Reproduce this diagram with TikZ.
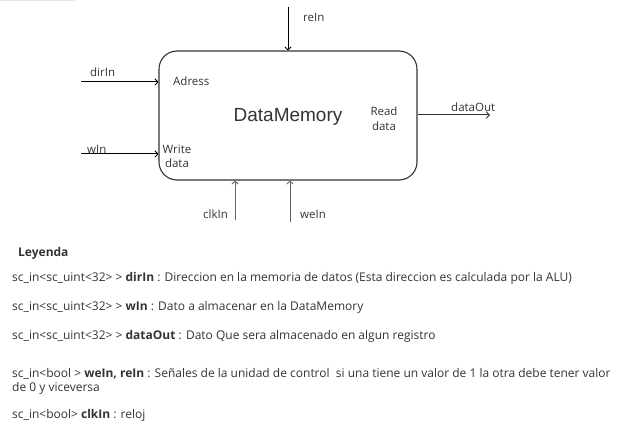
\documentclass[tikz,border=0pt]{standalone}
\usepackage{fontspec}
\setmainfont{Open Sans}
\newfontfamily\arialf{Liberation Sans}
\usetikzlibrary{arrows.meta}
\definecolor{txt}{HTML}{333333}
\definecolor{edge}{HTML}{333333}
\definecolor{lowline}{HTML}{666666}
\tikzset{
  lbl/.style={anchor=base west, inner sep=0pt, text=txt, font=\fontsize{11.5}{13}\selectfont},
  lblc/.style={anchor=base, inner sep=0pt, text=txt, font=\fontsize{11.5}{13}\selectfont},
  leg/.style={anchor=base west, inner sep=0pt, text=txt, font=\fontsize{12}{14}\selectfont},
  wire/.style={line width=1pt, -{Straight Barb[length=3pt,width=6.5pt,line width=0.9pt]}},
}
\begin{document}
\begin{tikzpicture}[x=1pt,y=-1pt]
\useasboundingbox (0,0) rectangle (622,425);
\fill[black!10] (0,0) rectangle (75,1.5);
% memory block
\node[draw=edge, line width=1.1pt, rounded corners=18pt, minimum width=258pt, minimum height=129pt, inner sep=0pt] (mem) at (288,115.5) {};
\node[inner sep=0pt, text=txt, font=\arialf\fontsize{19}{22}\selectfont, anchor=base] (title) at (288,122) {DataMemory};
% port labels inside
\node[lbl] (adr) at (173,86) {Adress};
\node[lblc] (wd1) at (177,154) {Write};
\node[lblc] (wd2) at (177,168) {data};
\node[lblc] (rd1) at (384,116) {Read};
\node[lblc] (rd2) at (384,131) {data};
% free ends
\coordinate (reS) at (288,7);
\coordinate (dirS) at (81,82);
\coordinate (wS) at (81,154);
\coordinate (outE) at (490,115);
\coordinate (clkS) at (235,220);
\coordinate (weS) at (290,222);
% connectors
\draw[wire, black] (reS) -- (reS |- mem.north);
\draw[wire, black] (dirS) -- (dirS -| mem.west);
\draw[wire, black] (wS) -- (wS -| mem.west);
\draw[wire, edge] (outE -| mem.east) -- (outE);
\draw[wire, lowline] (clkS) -- (clkS |- mem.south);
\draw[wire, lowline] (weS) -- (weS |- mem.south);
% connector labels
\node[lbl] (reL) at (303,22) {reIn};
\node[lbl] (dirL) at (90,77) {dirIn};
\node[lbl] (wL) at (87,154) {wIn};
\node[lbl] (outL) at (451,112) {dataOut};
\node[lbl] (clkL) at (203,219) {clkIn};
\node[lbl] (weL) at (300,219) {weIn};
% legend
\node[leg, font=\bfseries\fontsize{12}{14}\selectfont] (ley) at (18,257) {Leyenda};
\node[leg] (l1) at (12,281) {sc\_in<sc\_uint<32> > \textbf{dirIn} : Direccion en la memoria de datos (Esta direccion es calculada por la ALU)};
\node[leg] (l2) at (12,310) {sc\_in<sc\_uint<32> > \textbf{wIn} : Dato a almacenar en la DataMemory};
\node[leg] (l3) at (12,339) {sc\_in<sc\_uint<32> > \textbf{dataOut} : Dato Que sera almacenado en algun registro};
\node[leg] (l4) at (12,377) {sc\_in<bool > \textbf{weIn, reIn} : Señales de la unidad de control\ \ si una tiene un valor de 1 la otra debe tener valor};
\node[leg] (l4b) at (12,391) {de 0 y viceversa};
\node[leg] (l5) at (12,418) {sc\_in<bool> \textbf{clkIn} : reloj};
\end{tikzpicture}
\end{document}
